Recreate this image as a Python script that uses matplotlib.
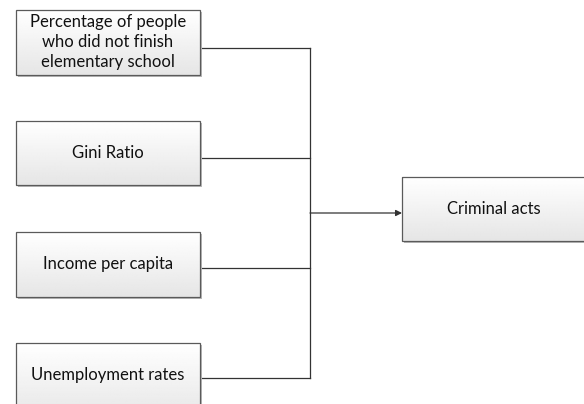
import numpy as np
import matplotlib.pyplot as plt
from matplotlib.patches import Rectangle

plt.rcParams['font.family'] = ['Lato', 'DejaVu Sans']

# input factors (label, top, bottom, connector y) in pixels
labels = ['Percentage of people\nwho did not finish\nelementary school',
          'Gini Ratio', 'Income per capita', 'Unemployment rates']
box_top = [10, 121, 232, 343]
box_bottom = [75, 185, 297, 420]
link_y = [48, 158, 268, 378]
text_y = [42, 153, 264, 375]

target = 'Criminal acts'

fig = plt.figure(figsize=(5.84, 4.04), dpi=100)
ax = fig.add_axes([0, 0, 1, 1])
ax.set_xlim(0, 584)
ax.set_ylim(404, 0)
ax.axis('off')

grad = np.linspace(1.0, 0.90, 64).reshape(-1, 1)


def box(x0, x1, y0, y1, text, ty):
    ax.add_patch(Rectangle((x0 + 1.5, y0 + 1.5), x1 - x0, y1 - y0,
                           facecolor='#b8b8b8', edgecolor='none', zorder=1))
    ax.imshow(grad, cmap='gray', vmin=0, vmax=1, aspect='auto',
              extent=(x0, x1, y1, y0), zorder=2, interpolation='bilinear')
    ax.add_patch(Rectangle((x0, y0), x1 - x0, y1 - y0, facecolor='none',
                           edgecolor='#5a5a5a', lw=0.9, zorder=3))
    ax.text((x0 + x1) / 2, ty, text, ha='center', va='center',
            fontsize=12, color='#111111', linespacing=1.32, zorder=4)


for lab, t, b, ty in zip(labels, box_top, box_bottom, text_y):
    box(16, 200, t, b, lab, ty)

box(402, 586, 177, 241, target, 209)

vx = 310
for y in link_y:
    ax.plot([200, vx], [y, y], color='#333333', lw=0.9, zorder=0)
ax.plot([vx, vx], [link_y[0], link_y[-1]], color='#333333', lw=0.9, zorder=0)
ax.annotate('', xy=(402, 213), xytext=(vx, 213),
            arrowprops=dict(arrowstyle='-|>', color='#333333', lw=0.9,
                            mutation_scale=9, shrinkA=0, shrinkB=0))

ax.set_xlim(0, 584)
ax.set_ylim(404, 0)
fig.savefig('out.png', dpi=100)
